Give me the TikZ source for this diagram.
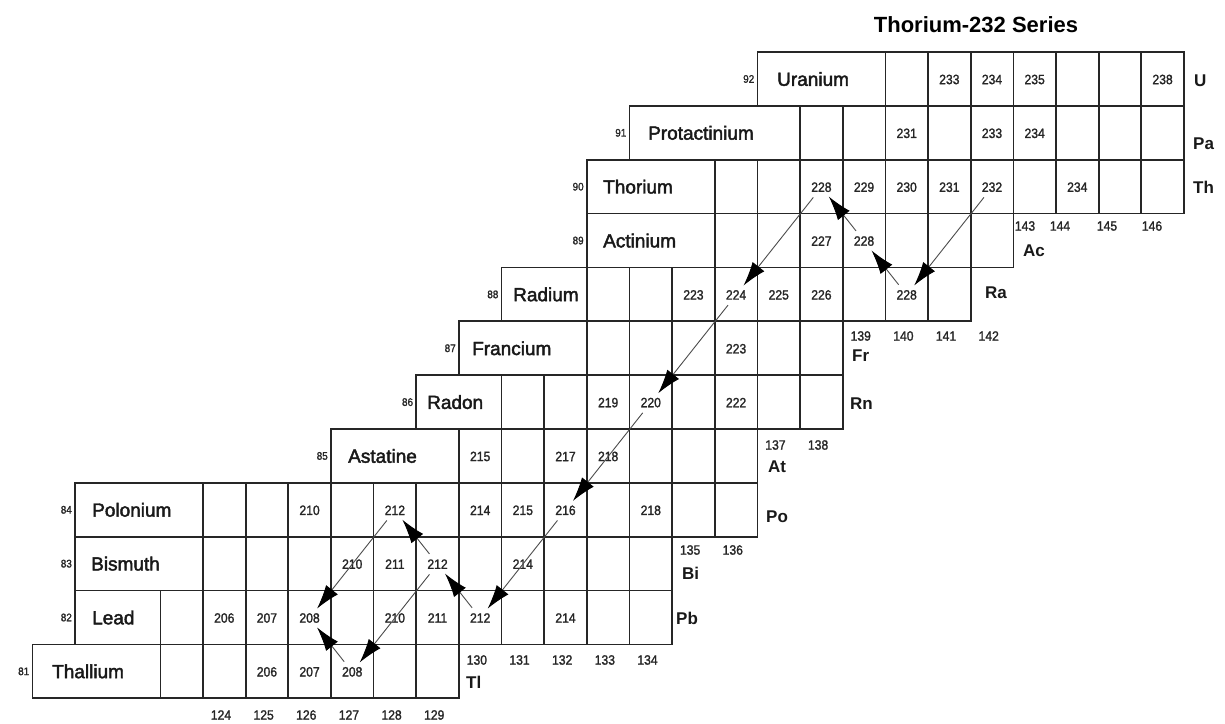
\documentclass[tikz,border=0pt]{standalone}
\usepackage{fontspec}
\setmainfont{Liberation Sans}
\newfontfamily\numfont[FakeStretch=0.9,FakeBold=1.5]{Liberation Sans}
\newfontfamily\namefont[FakeBold=2.2]{Liberation Sans}
\usetikzlibrary{arrows.meta}
\tikzset{
  grid/.style={draw=black!85, line width=1.7pt},
  num/.style={font=\numfont\fontsize{13.5}{13.5}\selectfont, inner sep=1pt, text=black!85},
  ename/.style={font=\namefont\fontsize{19}{19}\selectfont, anchor=west, inner sep=0pt, text=black!90},
  zlab/.style={font=\numfont\fontsize{11}{11}\selectfont, anchor=east, inner sep=0pt, text=black!85},
  sym/.style={font=\bfseries\fontsize{17}{17}\selectfont, anchor=west, inner sep=0pt, text=black!90},
  decay/.style={draw=black!70, line width=0.9pt, -{Latex[length=24pt,width=15pt,color=black]}, shorten <=13pt, shorten >=12pt},
  ttl/.style={font=\bfseries\fontsize{22}{22}\selectfont, inner sep=0pt}
}
% #1 Z, #2 first N of name box, #3 first data cell N, #4 last N, #5 name, #6 name x
\newcommand{\myrow}[6]{%
  \pgfmathsetmacro{\yt}{52+(92-#1)*53.85}%
  \pgfmathsetmacro{\ym}{\yt+27}%
  \pgfmathsetmacro{\xl}{203+(#2-124)*42.65}%
  \pgfmathsetmacro{\xr}{203+(#4+1-124)*42.65}%
  \draw[grid] (\xl,\yt) rectangle (\xr,\yt+53.85);
  \foreach \n in {#3,...,#4} {\draw[grid] ({203+(\n-124)*42.65},\yt) -- ++(0,53.85);}
  \node[zlab] (z#1) at (\xl-3,\ym) {#1};
  \node[ename] (name#1) at (#6,\ym) {#5};
}
% #1 node name, #2 Z, #3 N, #4 text
\newcommand{\mynuc}[4]{\node[num] (#1) at ({203+(#3-124)*42.65+21.3},{52+(92-#2)*53.85+27.5}) {#4};}
% #1 N, #2 y
\newcommand{\mycol}[2]{\node[num] (c#1) at ({203+(#1-124)*42.65+18},#2) {#1};}
\begin{document}
\begin{tikzpicture}[x=1pt,y=-1pt]
\fill[white] (0,0) rectangle (1225,723);
\useasboundingbox (0,0) rectangle (1225,723);
\node[ttl] (title) at (976,25) {Thorium-232 Series};
\myrow{92}{137}{140}{146}{Uranium}{777}
\myrow{91}{134}{138}{146}{Protactinium}{648}
\myrow{90}{133}{136}{146}{Thorium}{603}
\myrow{89}{133}{136}{142}{Actinium}{603}
\myrow{88}{131}{133}{141}{Radium}{513}
\myrow{87}{130}{133}{138}{Francium}{472}
\myrow{86}{129}{131}{138}{Radon}{427}
\myrow{85}{127}{130}{136}{Astatine}{348}
\myrow{84}{121}{124}{136}{Polonium}{92}
\myrow{83}{121}{124}{134}{Bismuth}{91}
\myrow{82}{121}{123}{134}{Lead}{92}
\myrow{81}{120}{123}{129}{Thallium}{52}
% nuclides
\mynuc{u233}{92}{141}{233}\mynuc{u234}{92}{142}{234}\mynuc{u235}{92}{143}{235}\mynuc{u238}{92}{146}{238}
\mynuc{pa231}{91}{140}{231}\mynuc{pa233}{91}{142}{233}\mynuc{pa234}{91}{143}{234}
\mynuc{th228}{90}{138}{228}\mynuc{th229}{90}{139}{229}\mynuc{th230}{90}{140}{230}\mynuc{th231}{90}{141}{231}\mynuc{th232}{90}{142}{232}\mynuc{th234}{90}{144}{234}
\mynuc{ac227}{89}{138}{227}\mynuc{ac228}{89}{139}{228}
\mynuc{ra223}{88}{135}{223}\mynuc{ra224}{88}{136}{224}\mynuc{ra225}{88}{137}{225}\mynuc{ra226}{88}{138}{226}\mynuc{ra228}{88}{140}{228}
\mynuc{fr223}{87}{136}{223}
\mynuc{rn219}{86}{133}{219}\mynuc{rn220}{86}{134}{220}\mynuc{rn222}{86}{136}{222}
\mynuc{at215}{85}{130}{215}\mynuc{at217}{85}{132}{217}\mynuc{at218}{85}{133}{218}
\mynuc{po210}{84}{126}{210}\mynuc{po212}{84}{128}{212}\mynuc{po214}{84}{130}{214}\mynuc{po215}{84}{131}{215}\mynuc{po216}{84}{132}{216}\mynuc{po218}{84}{134}{218}
\mynuc{bi210}{83}{127}{210}\mynuc{bi211}{83}{128}{211}\mynuc{bi212}{83}{129}{212}\mynuc{bi214}{83}{131}{214}
\mynuc{pb206}{82}{124}{206}\mynuc{pb207}{82}{125}{207}\mynuc{pb208}{82}{126}{208}\mynuc{pb210}{82}{128}{210}\mynuc{pb211}{82}{129}{211}\mynuc{pb212}{82}{130}{212}\mynuc{pb214}{82}{132}{214}
\mynuc{tl206}{81}{125}{206}\mynuc{tl207}{81}{126}{207}\mynuc{tl208}{81}{127}{208}
% neutron numbers
\foreach \n in {124,...,129} {\mycol{\n}{715}}
\foreach \n in {130,...,134} {\mycol{\n}{660}}
\foreach \n in {135,136} {\mycol{\n}{550}}
\foreach \n in {137,138} {\mycol{\n}{445}}
\foreach \n in {139,...,142} {\mycol{\n}{336}}
\node[num] (c143) at (1025,226) {143};
\node[num] (c144) at (1060,226) {144};
\node[num] (c145) at (1107,226) {145};
\node[num] (c146) at (1152,226) {146};
% element symbols
\node[sym] (sU) at (1194,81) {U};
\node[sym] (sPa) at (1193,144) {Pa};
\node[sym] (sTh) at (1193,187) {Th};
\node[sym] (sAc) at (1023,251) {Ac};
\node[sym] (sRa) at (985,293) {Ra};
\node[sym] (sFr) at (852,356) {Fr};
\node[sym] (sRn) at (850,404) {Rn};
\node[sym] (sAt) at (768,467) {At};
\node[sym] (sPo) at (766,517) {Po};
\node[sym] (sBi) at (682,573) {Bi};
\node[sym] (sPb) at (676,618) {Pb};
\node[sym] (sTl) at (466,682) {Tl};
% decay chain
\draw[decay] (th232.center) -- (ra228.center);
\draw[decay] (ra228.center) -- (ac228.center);
\draw[decay] (ac228.center) -- (th228.center);
\draw[decay] (th228.center) -- (ra224.center);
\draw[decay] (ra224.center) -- (rn220.center);
\draw[decay] (rn220.center) -- (po216.center);
\draw[decay] (po216.center) -- (pb212.center);
\draw[decay] (pb212.center) -- (bi212.center);
\draw[decay] (bi212.center) -- (po212.center);
\draw[decay] (po212.center) -- (pb208.center);
\draw[decay] (bi212.center) -- (tl208.center);
\draw[decay] (tl208.center) -- (pb208.center);
\end{tikzpicture}
\end{document}
